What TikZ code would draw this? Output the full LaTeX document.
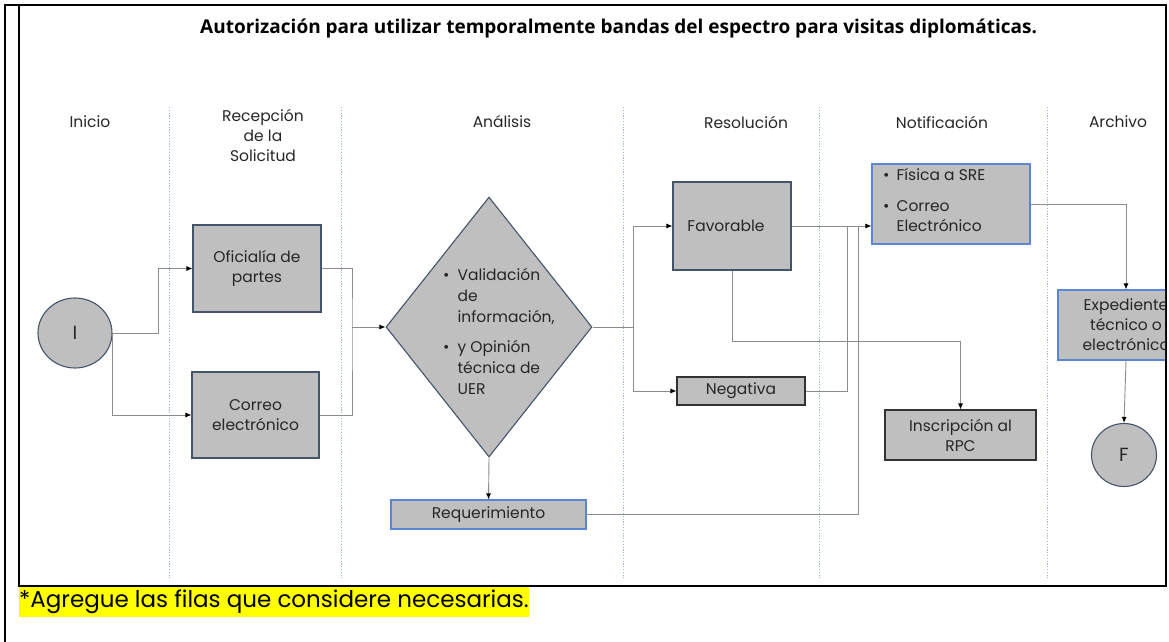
\documentclass[tikz,border=0pt]{standalone}
\usepackage{fontspec}
\setmainfont{Poppins}
\newfontfamily\titlefont{Open Sans}
\usetikzlibrary{shapes.geometric,arrows.meta}
\definecolor{boxfill}{HTML}{BFBFBF}
\definecolor{slate}{HTML}{44546A}
\definecolor{bluebd}{HTML}{5B86D6}
\definecolor{lnk}{HTML}{8C8C8C}
\definecolor{dotc}{HTML}{9DB4E4}
\definecolor{txt}{HTML}{262626}
\definecolor{hl}{HTML}{FFFF00}
\begin{document}
\begin{tikzpicture}[x=1pt,y=-1pt,
  box/.style={draw=slate,line width=1.1pt,fill=boxfill,inner sep=0pt,align=center,text=txt,font=\fontsize{15.5}{20}\selectfont},
  bluebox/.style={box,draw=bluebd},
  darkbox/.style={box,draw=black!80},
  term/.style={ellipse,draw=slate,line width=1.1pt,fill=boxfill,inner sep=0pt,text=txt,font=\fontsize{19}{20}\selectfont},
  hdr/.style={align=center,text=txt,inner sep=0pt,font=\fontsize{15.5}{20}\selectfont},
  lane/.style={dotc,line width=0.8pt,dash pattern=on 1.2pt off 1.6pt},
  conn/.style={lnk,line width=0.9pt},
  arr/.style={conn,-{Latex[length=6pt,width=5pt,color=black]}},
  frame/.style={line width=2.4pt,black}
]
\useasboundingbox (0,0) rectangle (1169,642);
% frame
\draw[frame] (5,642) -- (5,5) -- (1166,5) -- (1166,586) -- (19,586) -- (19,5);
% title
\node[anchor=west,inner sep=0pt,font=\titlefont\bfseries\fontsize{19}{22}\selectfont] (title) at (200,29) {Autorización para utilizar temporalmente bandas del espectro para visitas diplomáticas.};
% lanes
\foreach \x/\n in {169/l1,341/l2,623/l3,819/l4,1047/l5}{
  \coordinate (\n t) at (\x,107);
  \coordinate (\n b) at (\x,578);
  \draw[lane] (\n t) -- (\n b);
}
% headers
\node[hdr] (h1) at (90,122) {Inicio};
\node[hdr] (h2) at (263,135) {Recepción\\de la\\Solicitud};
\node[hdr] (h3) at (502,122) {Análisis};
\node[hdr] (h4) at (746,122) {Resolución};
\node[hdr] (h5) at (942,122) {Notificación};
\node[hdr] (h6) at (1118,122) {Archivo};
% nodes
\node[term,minimum width=74pt,minimum height=70pt] (I) at (75,333) {I};
\node[box,minimum width=128pt,minimum height=87pt] (ofi) at (257,268.5) {Oficialía de\\partes};
\node[box,minimum width=127pt,minimum height=86pt] (cor) at (255.5,415) {Correo\\electrónico};
\node[diamond,draw=slate,line width=1.1pt,fill=boxfill,inner sep=0pt,minimum width=206pt,minimum height=260pt] (dia) at (489,327) {};
\node[anchor=north west,inner sep=0pt,text=txt,font=\fontsize{15.5}{21}\selectfont] (diat) at (443,266) {%
  \begin{tabular}{@{}l@{\hspace{8pt}}l@{}}
  \textbullet & Validación\\
   & de\\
   & información,\\[9pt]
  \textbullet & y Opinión\\
   & técnica de\\
   & UER
  \end{tabular}};
\node[bluebox,minimum width=195pt,minimum height=29pt] (req) at (488.5,514.5) {Requerimiento};
\node[box,minimum width=118pt,minimum height=88pt] (fav) at (732,226) {\hspace*{-12pt}Favorable};
\node[darkbox,minimum width=128pt,minimum height=28pt] (neg) at (741,391) {Negativa};
\node[bluebox,minimum width=158pt,minimum height=80pt] (notif) at (951,204) {};
\node[anchor=north west,inner sep=0pt,text=txt,font=\fontsize{15.5}{20}\selectfont] (notift) at (883,166) {%
  \begin{tabular}{@{}l@{\hspace{7pt}}l@{}}
  \textbullet & Física a SRE\\[11pt]
  \textbullet & Correo\\
   & Electrónico
  \end{tabular}};
\node[darkbox,minimum width=151pt,minimum height=50pt] (insc) at (960.5,435) {Inscripción al\\RPC};
\begin{scope}
\clip (19,5) rectangle (1165,586);
\node[bluebox,minimum width=136pt,minimum height=70pt] (exp) at (1126,325) {Expediente\\técnico o\\electrónico};
\end{scope}
\node[term,minimum width=65pt,minimum height=63pt] (F) at (1124,455) {F};
% connectors
\draw[arr] (I.east) -- ++(46,0) |- (ofi.west);
\draw[arr] (I.east) |- (cor.west);
\coordinate (j1) at (352,327);
\draw[conn] (ofi.east) -| (j1) |- (cor.east);
\draw[arr] (j1) -- (dia.west);
\coordinate (j2) at (633,327);
\draw[conn] (dia.east) -- (j2);
\draw[arr] (j2) |- (fav.west);
\draw[arr] (j2) |- (neg.west);
\draw[arr] (dia.south) -- (req.north);
\draw[arr] (fav.east) -- (fav.east -| notif.west);
\coordinate (m1) at (847,226);
\coordinate (m2) at (858,226);
\draw[conn] (neg.east) -| (m1);
\draw[conn] (req.east) -| (m2);
\draw[arr] (fav.south) -- ++(0,71) -| (insc.north);
\draw[arr] (notif.east) -| (exp.north);
\draw[arr] (exp.south) -- (F.north);
% footer
\node[anchor=north west,fill=hl,inner sep=0pt,minimum height=30pt,text=black,font=\fontsize{23}{24}\selectfont] (foot) at (19,587) {*Agregue las filas que considere necesarias.};
\end{tikzpicture}
\end{document}
